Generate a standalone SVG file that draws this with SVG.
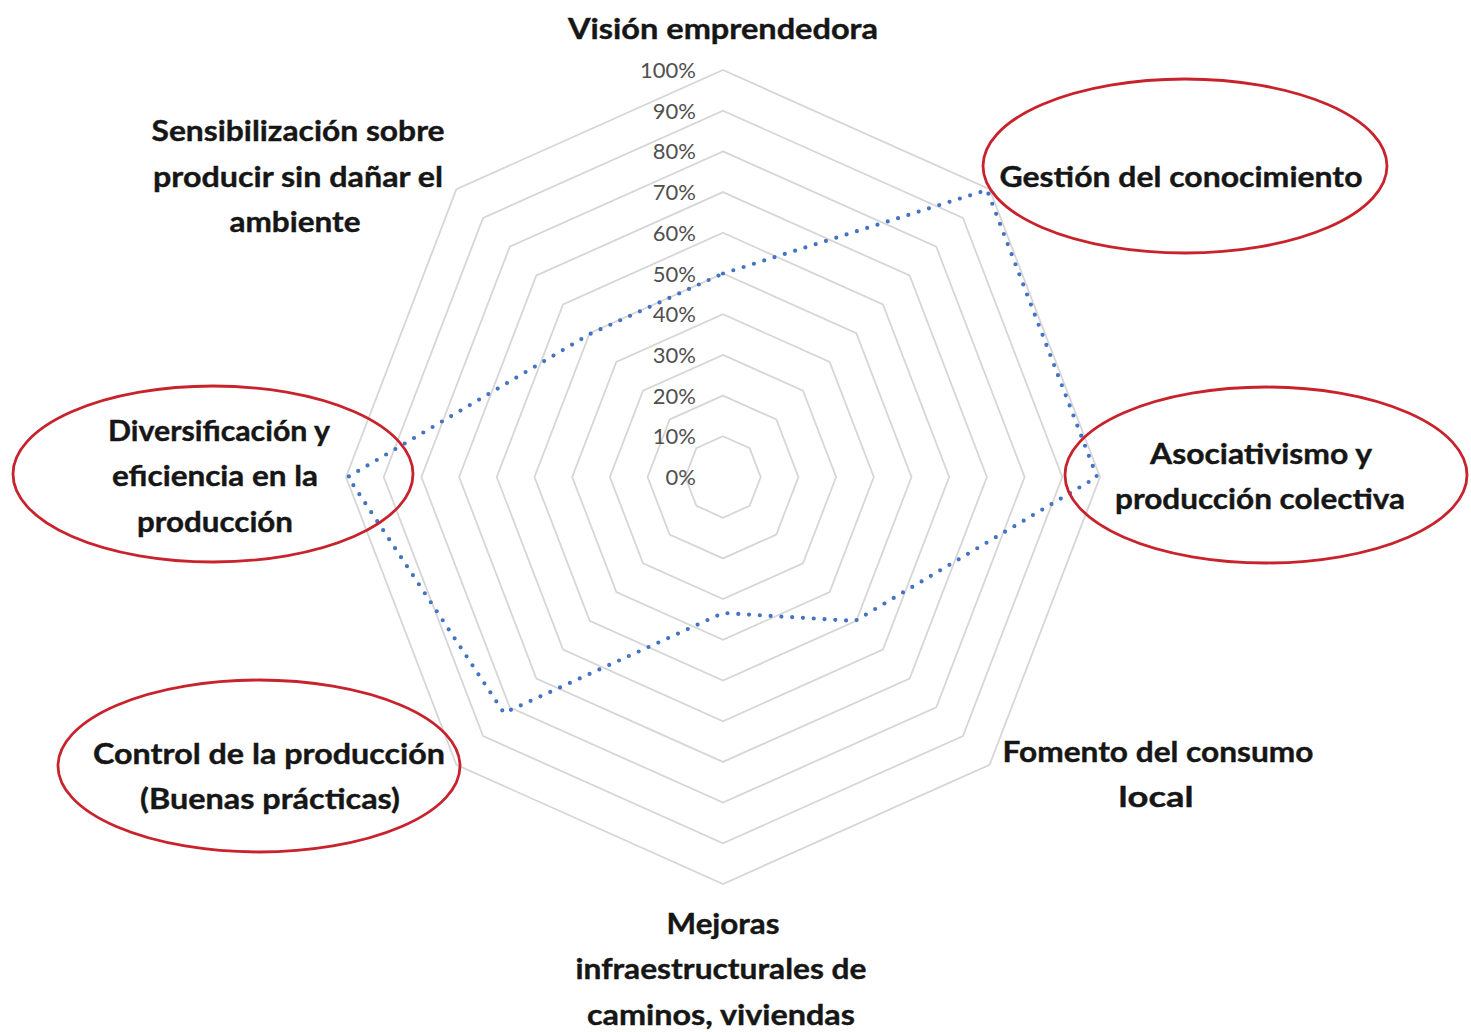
<svg xmlns="http://www.w3.org/2000/svg" width="1471" height="1032" viewBox="0 0 1471 1032">
<style>
.grid{fill:none;stroke:#d6d6d6;stroke-width:1.8}
.pct{font-family:Lato,"Liberation Sans",sans-serif;font-size:22px;fill:#505050;text-anchor:end}
.lbl{font-family:Lato,"Liberation Sans",sans-serif;font-weight:700;font-size:29px;fill:#161616;text-anchor:middle;stroke:#161616;stroke-width:0.4}
.ring{fill:none;stroke:#c8232c;stroke-width:2.8}
.series{fill:none;stroke:#4472c4;stroke-width:4.2;stroke-linecap:round;stroke-linejoin:round;stroke-dasharray:0 10.8}
</style>
<rect width="1471" height="1032" fill="#ffffff"/>
<g id="grid">
<polygon class="grid" points="723,436.3 749.66,448.22 760.7,477 749.66,505.78 723,517.7 696.34,505.78 685.3,477 696.34,448.22"/>
<polygon class="grid" points="723,395.6 776.32,419.44 798.4,477 776.32,534.56 723,558.4 669.68,534.56 647.6,477 669.68,419.44"/>
<polygon class="grid" points="723,354.9 802.98,390.66 836.1,477 802.98,563.34 723,599.1 643.02,563.34 609.9,477 643.02,390.66"/>
<polygon class="grid" points="723,314.2 829.64,361.88 873.8,477 829.64,592.12 723,639.8 616.36,592.12 572.2,477 616.36,361.88"/>
<polygon class="grid" points="723,273.5 856.3,333.1 911.5,477 856.3,620.9 723,680.5 589.7,620.9 534.5,477 589.7,333.1"/>
<polygon class="grid" points="723,232.8 882.96,304.32 949.2,477 882.96,649.68 723,721.2 563.04,649.68 496.8,477 563.04,304.32"/>
<polygon class="grid" points="723,192.1 909.62,275.54 986.9,477 909.62,678.46 723,761.9 536.38,678.46 459.1,477 536.38,275.54"/>
<polygon class="grid" points="723,151.4 936.28,246.76 1024.6,477 936.28,707.24 723,802.6 509.72,707.24 421.4,477 509.72,246.76"/>
<polygon class="grid" points="723,110.7 962.94,217.98 1062.3,477 962.94,736.02 723,843.3 483.06,736.02 383.7,477 483.06,217.98"/>
<polygon class="grid" points="723,70 989.6,189.2 1100,477 989.6,764.8 723,884 456.4,764.8 346,477 456.4,189.2"/>
</g>
<g id="scale">
<text class="pct" x="696" y="78">100%</text>
<text class="pct" x="696" y="118.7">90%</text>
<text class="pct" x="696" y="159.4">80%</text>
<text class="pct" x="696" y="200.1">70%</text>
<text class="pct" x="696" y="240.8">60%</text>
<text class="pct" x="696" y="281.5">50%</text>
<text class="pct" x="696" y="322.2">40%</text>
<text class="pct" x="696" y="362.9">30%</text>
<text class="pct" x="696" y="403.6">20%</text>
<text class="pct" x="696" y="444.3">10%</text>
<text class="pct" x="696" y="485">0%</text>
</g>
<g id="connectors">
<polygon class="series" points="723,273.5 987,190 1097,477 855,621 723,613 504,713 348,477 590,334"/>
</g>
<g id="node-vision">
<text class="lbl" x="723" y="39" textLength="310" lengthAdjust="spacingAndGlyphs">Visión emprendedora</text>
</g>
<g id="node-gestion">
<ellipse class="ring" cx="1185" cy="166" rx="202" ry="87"/>
<text class="lbl" x="1181" y="187" textLength="363" lengthAdjust="spacingAndGlyphs">Gestión del conocimiento</text>
</g>
<g id="node-asociativismo">
<ellipse class="ring" cx="1266" cy="475" rx="201" ry="88"/>
<text class="lbl" x="1261" y="464" textLength="222" lengthAdjust="spacingAndGlyphs">Asociativismo y</text>
<text class="lbl" x="1260" y="509" textLength="290" lengthAdjust="spacingAndGlyphs">producción colectiva</text>
</g>
<g id="node-fomento">
<text class="lbl" x="1158" y="762" textLength="311" lengthAdjust="spacingAndGlyphs">Fomento del consumo</text>
<text class="lbl" x="1156" y="807" textLength="75" lengthAdjust="spacingAndGlyphs">local</text>
</g>
<g id="node-mejoras">
<text class="lbl" x="723" y="934" textLength="113" lengthAdjust="spacingAndGlyphs">Mejoras</text>
<text class="lbl" x="721" y="979" textLength="291" lengthAdjust="spacingAndGlyphs">infraestructurales de</text>
<text class="lbl" x="721" y="1025" textLength="268" lengthAdjust="spacingAndGlyphs">caminos, viviendas</text>
</g>
<g id="node-control">
<ellipse class="ring" cx="259" cy="766" rx="201" ry="86"/>
<text class="lbl" x="269" y="764" textLength="352" lengthAdjust="spacingAndGlyphs">Control de la producción</text>
<text class="lbl" x="270" y="809" textLength="260" lengthAdjust="spacingAndGlyphs">(Buenas prácticas)</text>
</g>
<g id="node-diversificacion">
<ellipse class="ring" cx="213" cy="474" rx="200" ry="88"/>
<text class="lbl" x="219" y="441" textLength="222" lengthAdjust="spacingAndGlyphs">Diversificación y</text>
<text class="lbl" x="215" y="486" textLength="206" lengthAdjust="spacingAndGlyphs">eficiencia en la</text>
<text class="lbl" x="215" y="532" textLength="156" lengthAdjust="spacingAndGlyphs">producción</text>
</g>
<g id="node-sensibilizacion">
<text class="lbl" x="298" y="141" textLength="293" lengthAdjust="spacingAndGlyphs">Sensibilización sobre</text>
<text class="lbl" x="298" y="187" textLength="290" lengthAdjust="spacingAndGlyphs">producir sin dañar el</text>
<text class="lbl" x="295" y="232" textLength="131" lengthAdjust="spacingAndGlyphs">ambiente</text>
</g>
</svg>
